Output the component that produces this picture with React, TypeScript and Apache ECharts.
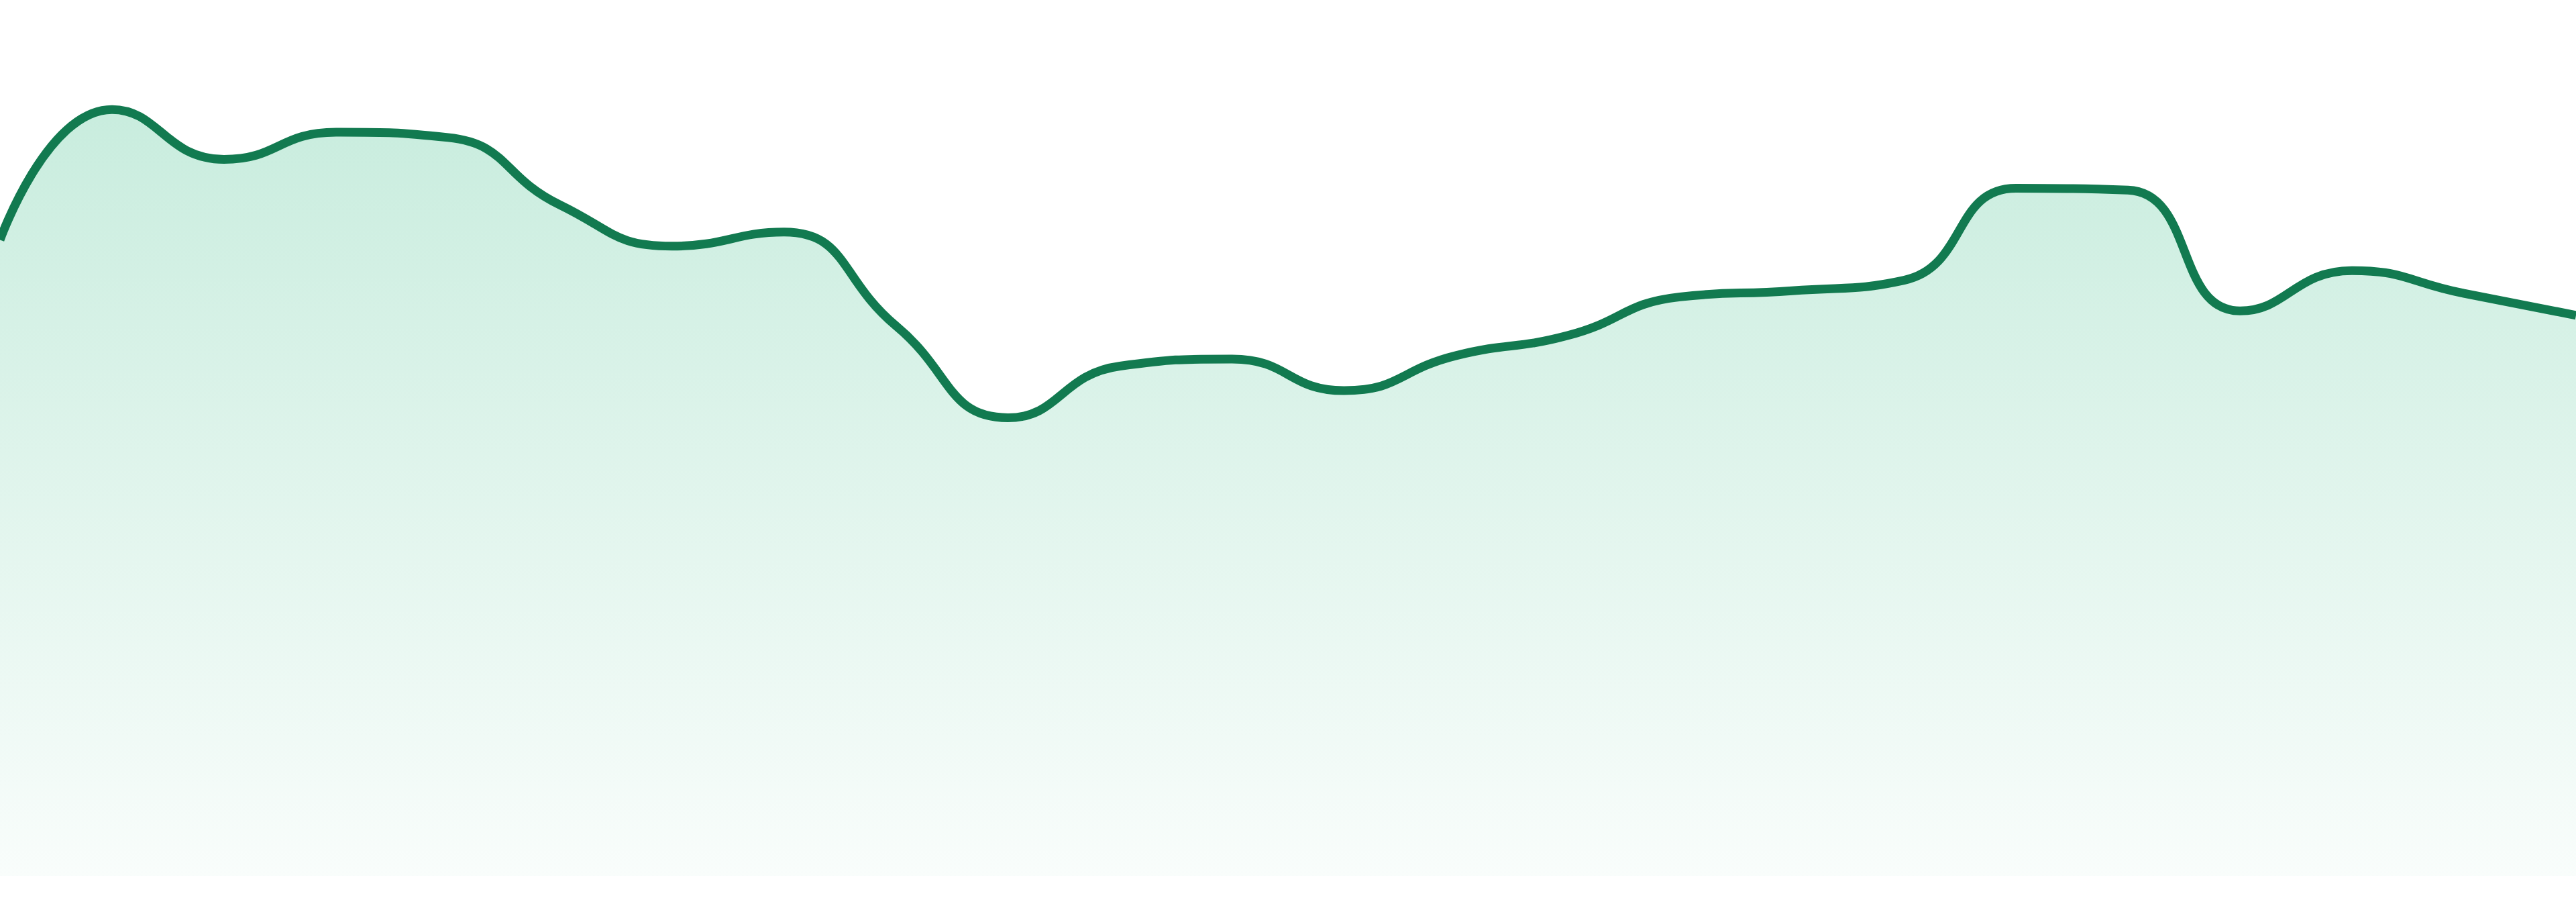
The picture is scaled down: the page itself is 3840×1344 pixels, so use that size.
import React, { useEffect, useRef } from 'react';
import * as echarts from 'echarts';

const hours = [
  '00:00', '01:00', '02:00', '03:00', '04:00', '05:00', '06:00', '07:00',
  '08:00', '09:00', '10:00', '11:00', '12:00', '13:00', '14:00', '15:00',
  '16:00', '17:00', '18:00', '19:00', '20:00', '21:00', '22:00', '23:00',
];

const activity = [
  72.6, 87.5, 81.8, 84.9, 84.3, 76.6, 71.9, 73.5,
  62.8, 52.3, 58.2, 59.0, 55.4, 59.4, 61.7, 66.1,
  66.8, 68.0, 78.5, 78.3, 64.5, 69.1, 66.5, 64.0,
];

const App: React.FC = () => {
  const chartRef = useRef<HTMLDivElement>(null);

  useEffect(() => {
    if (!chartRef.current) return;

    const chart = echarts.init(chartRef.current, undefined, { renderer: 'svg' });

    const option: echarts.EChartsOption = {
      animation: false,
      grid: { left: 0, right: 0, top: 0, bottom: 39 },
      xAxis: {
        type: 'category',
        data: hours,
        boundaryGap: false,
        show: false,
      },
      yAxis: {
        type: 'value',
        min: 0,
        max: 100,
        show: false,
      },
      series: [
        {
          name: 'Activity',
          type: 'line',
          data: activity,
          smooth: true,
          showSymbol: false,
          lineStyle: { color: '#127a50', width: 13 },
          areaStyle: {
            color: new echarts.graphic.LinearGradient(0, 0, 0, 1, [
              { offset: 0, color: 'rgba(33, 180, 120, 0.35)' },
              { offset: 1, color: 'rgba(33, 180, 120, 0.04)' },
            ]),
          },
        },
      ],
    };

    chart.setOption(option);

    const handleResize = () => {
      chart.resize();
    };
    window.addEventListener('resize', handleResize);

    return () => {
      window.removeEventListener('resize', handleResize);
      chart.dispose();
    };
  }, []);

  return (
    <div
      ref={chartRef}
      style={{ position: 'absolute', left: 0, top: 0, width: '3840px', height: '1344px', background: '#ffffff' }}
    />
  );
};

export default App;
